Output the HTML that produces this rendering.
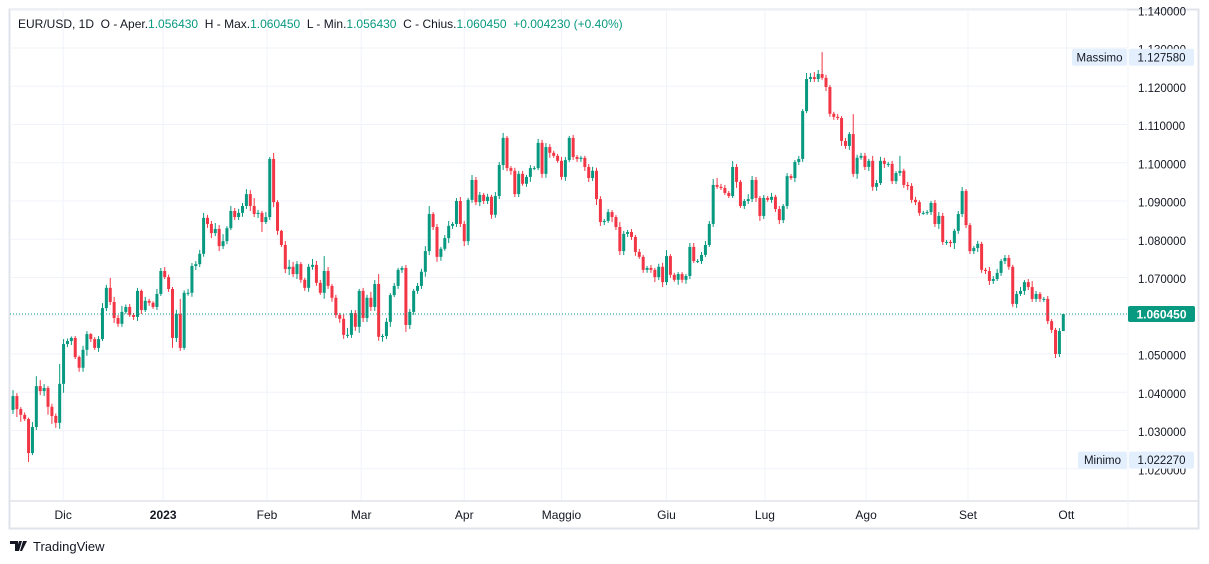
<!DOCTYPE html>
<html><head><meta charset="utf-8"><style>
html,body{margin:0;padding:0;background:#fff;}
svg{display:block;font-family:"Liberation Sans",sans-serif;}
</style></head><body>
<svg id="chart" width="1209" height="564" viewBox="0 0 1209 564" xmlns="http://www.w3.org/2000/svg">
<rect x="0" y="0" width="1209" height="564" fill="#fff"/>
<rect x="9.5" y="9.5" width="1189" height="519" fill="none" stroke="#e0e3eb" stroke-width="2"/>
<g id="grid"></g>
<line x1="10" y1="501" x2="1198" y2="501" stroke="#e0e3eb" stroke-width="1.5"/>
<line x1="1128" y1="10" x2="1128" y2="528" stroke="#f0f3fa" stroke-width="1"/>
<defs><clipPath id="plotclip"><rect x="10" y="10" width="1117" height="490"/></clipPath></defs>
<g id="candles" clip-path="url(#plotclip)"></g>
<g id="yaxis"></g>
<g id="xaxis"></g>
<g id="overlay"></g>
<text x="18" y="28" font-size="12" fill="#131722">EUR/USD, 1D&#160;&#160;O - Aper.<tspan fill="#089981">1.056430</tspan>&#160;&#160;H - Max.<tspan fill="#089981">1.060450</tspan>&#160;&#160;L - Min.<tspan fill="#089981">1.056430</tspan>&#160;&#160;C - Chius.<tspan fill="#089981">1.060450</tspan>&#160;&#160;<tspan fill="#089981">+0.004230 (+0.40%)</tspan></text>
<g>
<path d="M10 541h8v10h-3v-7h-5z M19 541h3l-3 10h-3z M23 541h4l-5 10h-2z" fill="#131722"/>
<text x="33" y="551" font-size="13" fill="#131722">TradingView</text>
</g>
</svg>
<script>
const closes=[1.0390,1.0356,1.0341,1.0330,1.0241,1.0309,1.0416,1.0403,1.0411,1.0362,1.0338,1.0320,1.0422,1.0526,1.0534,1.0542,1.0492,1.0464,1.0511,1.0552,1.0539,1.0516,1.0539,1.0620,1.0673,1.0636,1.0594,1.0579,1.0610,1.0623,1.0602,1.0597,1.0665,1.0615,1.0639,1.0634,1.0623,1.0657,1.0717,1.0701,1.0670,1.0542,1.0605,1.0516,1.0660,1.0660,1.0730,1.0735,1.0762,1.0856,
1.0840,1.0816,1.0827,1.0782,1.0795,1.0829,1.0874,1.0858,1.0869,1.0887,1.0918,1.0887,1.0866,1.0869,1.0845,1.0858,1.1010,1.0897,1.0822,1.0785,1.0722,1.0728,1.0709,1.0735,1.0694,1.0673,1.0728,1.0733,1.0686,1.0660,1.0717,1.0678,1.0647,1.0602,1.0592,1.0550,1.0550,1.0607,1.0571,1.0665,1.0594,1.0647,1.0623,1.0683,1.0545,1.0547,1.0584,1.0654,1.0678,1.0720,1.0725,1.0576,1.0610,1.0665,1.0678,1.0715,
1.0769,1.0866,1.0832,1.0754,1.0775,1.0803,1.0835,1.0840,1.0900,1.0840,1.0795,1.0903,1.0955,1.0897,1.0916,1.0900,1.0911,1.0864,1.0913,1.0994,1.1065,1.0986,1.0979,1.0918,1.0971,1.0945,1.0963,1.0986,1.0986,1.1052,1.0971,1.1041,1.1026,1.1018,1.1005,1.0963,1.1007,1.1065,1.1015,1.1010,1.1013,1.0989,1.0960,1.0979,1.0905,1.0845,1.0848,1.0871,1.0858,1.0832,1.0769,1.0814,1.0819,1.0806,1.0767,1.0754,1.0720,1.0725,1.0720,1.0701,1.0728,1.0688,1.0756,1.0707,1.0694,1.0709,1.0694,1.0704,1.0780,1.0743,1.0743,1.0759,1.0785,1.0840,
1.0942,1.0937,1.0934,1.0921,1.0913,1.0989,1.0950,1.0887,1.0900,1.0905,1.0955,1.0908,1.0861,1.0908,1.0903,1.0911,1.0879,1.0850,1.0887,1.0965,1.0960,1.1002,1.1010,1.1135,1.1219,1.1224,1.1219,1.1232,1.1222,1.1198,1.1128,1.1120,1.1117,1.1057,1.1044,1.1075,1.0971,1.1013,1.1018,1.0989,1.1005,1.0937,1.0947,1.1005,1.0997,1.0997,1.0952,1.0973,1.0979,1.0942,1.0939,1.0903,1.0897,1.0869,1.0869,1.0871,
1.0895,1.0840,1.0861,1.0793,1.0793,1.0790,1.0822,1.0866,1.0926,1.0837,1.0769,1.0777,1.0788,1.0720,1.0717,1.0691,1.0696,1.0712,1.0743,1.0751,1.0728,1.0631,1.0657,1.0665,1.0688,1.0675,1.0644,1.0657,1.0644,1.0644,1.0586,1.0563,1.0500,1.0560,1.06045];
const firstOpen=1.0354;
const upperWickPips=[12,6,4,5,3,10,20,12,8,4,6,5,40,10,5,3,4,3,8,6,2,4,6,10,6,20,10,6,12,5,6,4,6,3,8,4,3,10,6,8,5,4,8,30,5,8,6,6,8,10,
6,6,12,8,14,4,10,6,8,6,10,8,16,6,4,10,4,12,4,2,8,14,10,6,4,4,6,12,8,6,30,8,4,6,4,10,14,6,6,4,6,6,12,8,20,4,8,4,6,4,4,6,6,4,6,6,
10,16,4,6,4,6,10,4,6,8,6,4,10,6,6,4,6,4,8,6,10,4,4,6,6,6,4,6,4,8,6,8,6,4,4,8,6,4,6,4,4,4,6,8,6,6,4,6,4,4,10,6,4,6,4,6,4,4,6,4,6,8,12,4,4,4,4,4,8,8,4,6,8,6,
12,14,6,6,4,12,6,4,4,10,8,6,4,6,4,8,4,6,4,6,4,4,6,4,12,8,10,8,44,6,4,4,6,4,6,4,40,6,6,6,4,10,6,8,6,4,6,4,30,4,6,6,6,4,4,4,
4,6,8,6,4,4,4,6,8,4,4,4,6,4,4,8,6,8,4,6,6,4,6,8,4,6,12,6,4,4,6,4,4,6,0];
const lowerWickPips=[8,16,14,4,18,4,6,8,10,16,16,10,12,18,6,8,4,8,8,12,6,4,8,4,6,6,10,6,6,4,4,6,8,8,4,6,4,6,4,4,6,20,8,6,4,6,8,8,6,6,
8,10,6,10,6,6,4,6,6,8,6,10,6,8,20,4,6,10,8,4,8,12,6,10,6,6,8,6,6,4,12,6,8,6,8,8,6,6,8,12,8,8,8,8,8,10,6,10,4,6,6,14,8,6,6,6,
10,8,6,10,8,4,10,6,6,6,10,8,6,6,8,6,6,8,6,6,10,6,8,6,6,4,6,10,4,4,8,8,10,4,4,6,8,4,6,6,6,8,8,6,12,8,6,4,10,6,8,8,6,6,8,4,6,6,6,10,6,10,6,6,4,10,6,8,6,4,4,6,4,4,
6,4,4,4,4,4,12,4,6,6,6,8,10,6,4,6,6,8,6,6,4,8,6,6,4,6,6,6,4,8,6,6,4,10,6,8,6,10,4,6,8,8,8,4,8,6,6,6,6,6,8,6,6,6,4,4,
6,6,10,6,6,8,12,6,6,6,6,6,8,6,6,8,6,4,6,6,6,6,8,4,8,6,6,6,6,6,6,6,8,6,0];
const priceTicks=[1.02,1.03,1.04,1.05,1.06,1.07,1.08,1.09,1.10,1.11,1.12,1.13,1.14];
const timeLabels=["Dic","2023","Feb","Mar","Apr","Maggio","Giu","Lug","Ago","Set","Ott"];
const timeIdx=[12.9,38.6,65.3,89.5,116,141,168,193.3,219.3,245.5,270.8];
const lastPrice=1.060450, highPrice=1.127580, lowPrice=1.022270;

const NS="http://www.w3.org/2000/svg";
function yScale(p){return 48+(1.13-p)*3825;}
function xScale(i){return 13+i*3.89;}
function mk(tag,attrs,parent){const e=document.createElementNS(NS,tag);for(const k in attrs)e.setAttribute(k,attrs[k]);parent.appendChild(e);return e;}
const grid=document.getElementById('grid'),cg=document.getElementById('candles'),ya=document.getElementById('yaxis'),xa=document.getElementById('xaxis'),ov=document.getElementById('overlay');

priceTicks.forEach(p=>{
  const y=yScale(p);
  const l=mk('line',{x1:10,x2:1127,y1:y,y2:y,stroke:'#f0f3fa','stroke-width':1},grid);
  
  
  const t=mk('text',{x:1138,y:y+5.5,'font-size':11.5,fill:'#131722'},ya);
  t.textContent=p.toFixed(6);
  
  
});
timeLabels.forEach((s,k)=>{
  const x=xScale(timeIdx[k]);
  const l=mk('line',{x1:x,x2:x,y1:10,y2:500,stroke:'#f0f3fa','stroke-width':1},grid);
  
  
  const t=mk('text',{x:x,y:519,'font-size':12,fill:'#131722','text-anchor':'middle','font-weight':s==='2023'?'bold':'normal'},xa);
  t.textContent=s;
  
  
});

let prev=firstOpen;
closes.forEach((c,i)=>{
  const o=prev; prev=c;
  const up=c>=o, col=up?'#089981':'#f23645';
  const hi=Math.max(o,c)+(upperWickPips[i]||0)*1.3/10000, lo=Math.min(o,c)-(lowerWickPips[i]||0)*1.3/10000;
  const x=xScale(i);
  const g=mk('g',{},cg);
  
  
  mk('line',{x1:x,x2:x,y1:yScale(hi),y2:yScale(lo),stroke:col,'stroke-width':1},g);
  const yt=yScale(Math.max(o,c)),yb=yScale(Math.min(o,c));
  mk('rect',{x:x-1.5,y:yt,width:3,height:Math.max(1,yb-yt),fill:col},g);
});

const ly=yScale(lastPrice);
const dl=mk('line',{x1:10,x2:1127,y1:ly,y2:ly,stroke:'#089981','stroke-width':1,'stroke-dasharray':'1 2'},ov);


const lb=mk('rect',{x:1128,y:ly-8,width:67,height:16,rx:2,fill:'#089981'},ov);


const lt=mk('text',{x:1161.5,y:ly+4.5,'font-size':12,'font-weight':'bold',fill:'#fff','text-anchor':'middle'},ov);
lt.textContent=lastPrice.toFixed(6);



function marker(name,label,val,lx){
  const y=yScale(val);
  const g=mk('g',{},ov);
  
  
  mk('rect',{x:lx,y:y-8.5,width:1127-lx,height:17,rx:2,fill:'#e3effd'},g);
  mk('rect',{x:1129,y:y-8.5,width:65,height:17,rx:2,fill:'#e3effd'},g);
  const a=mk('text',{x:(lx+1127)/2,y:y+4,'font-size':11.5,fill:'#131722','text-anchor':'middle'},g);a.textContent=label;
  const b=mk('text',{x:1161.5,y:y+4,'font-size':11.5,fill:'#131722','text-anchor':'middle'},g);b.textContent=val.toFixed(6);
}
marker('max-marker','Massimo',highPrice,1072);
marker('min-marker','Minimo',lowPrice,1078);
</script>
</body></html>
